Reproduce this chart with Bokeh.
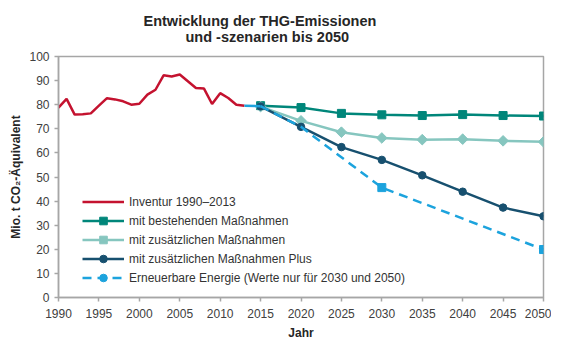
from bokeh.plotting import figure
from bokeh.models import Title, Legend, LegendItem, Range1d, FixedTicker
from bokeh.embed import file_html
from bokeh.resources import INLINE

# ---- data ----
inv_years = list(range(1990, 2014))
inv_vals = [78.8, 82.4, 75.9, 76.0, 76.4, 79.6, 82.7, 82.2, 81.4, 80.0, 80.4, 84.2,
            86.2, 92.2, 91.7, 92.5, 89.7, 86.9, 86.7, 80.3, 84.8, 82.8, 80.0, 79.6]
scen_years = [2015, 2020, 2025, 2030, 2035, 2040, 2045, 2050]
wem_vals = [79.6, 78.8, 76.4, 75.8, 75.5, 75.9, 75.5, 75.3]
wam_vals = [79.2, 73.3, 68.6, 66.2, 65.5, 65.7, 65.0, 64.6]
wamp_vals = [79.3, 70.8, 62.4, 57.1, 50.7, 43.9, 37.3, 33.7]
ee_years = [2015, 2020, 2030, 2050]
ee_vals = [79.4, 70.8, 45.6, 19.9]
ee_marker_years = [2030, 2050]
ee_marker_vals = [45.6, 19.9]
x_ticks = list(range(1990, 2051, 5))
y_ticks = list(range(0, 101, 10))

title_lines = ["Entwicklung der THG-Emissionen", "und -szenarien bis 2050"]
labels = ["Inventur 1990\u20132013", "mit bestehenden Ma\u00dfnahmen",
          "mit zus\u00e4tzlichen Ma\u00dfnahmen", "mit zus\u00e4tzlichen Ma\u00dfnahmen Plus",
          "Erneuerbare Energie (Werte nur f\u00fcr 2030 und 2050)"]

c_inv = "#C4122F"
c_wem = "#00867A"
c_wam = "#86C6BF"
c_wamp = "#17506F"
c_ee = "#1CA3DD"
FONT = "Liberation Sans"

p = figure(width=551, height=347, output_backend="svg", toolbar_location=None,
           x_range=Range1d(1990, 2050), y_range=Range1d(0, 100),
           min_border_left=58, min_border_right=8, min_border_top=56, min_border_bottom=50)
p.grid.visible = False
p.outline_line_color = "#A6A6A6"
p.outline_line_width = 1.5
p.background_fill_color = "white"
p.border_fill_color = "white"

for ax in (p.xaxis, p.yaxis):
    ax.axis_line_color = "#A6A6A6"
    ax.axis_line_width = 1.5
    ax.major_tick_line_color = "#A6A6A6"
    ax.major_tick_line_width = 1.5
    ax.major_tick_in = 0
    ax.major_tick_out = 4
    ax.minor_tick_line_color = None
    ax.major_label_text_font = FONT
    ax.major_label_text_font_size = "12px"
    ax.major_label_text_color = "#404040"
    ax.axis_label_text_font = FONT
    ax.axis_label_text_font_size = "12px"
    ax.axis_label_text_font_style = "bold"
    ax.axis_label_text_color = "#262626"

p.xaxis.ticker = FixedTicker(ticks=x_ticks)
p.yaxis.ticker = FixedTicker(ticks=y_ticks)
p.xaxis.axis_label = "Jahr"
p.yaxis.axis_label = "Mio. t CO\u2082-\u00c4quivalent"
p.xaxis.major_label_standoff = 7
p.yaxis.major_label_standoff = 5
p.xaxis.axis_label_standoff = 5
p.yaxis.axis_label_standoff = 3

# two-line title (first added sits closest to the plot)
p.add_layout(Title(text=title_lines[1], align="left", offset=127,
                   text_font=FONT, text_font_size="14.5px", text_font_style="bold",
                   text_color="#262626", standoff=24), "above")
p.add_layout(Title(text=title_lines[0], align="left", offset=85,
                   text_font=FONT, text_font_size="14.5px", text_font_style="bold",
                   text_color="#262626", standoff=-28), "above")

LW = 2.5
r_inv = p.line(inv_years, inv_vals, color=c_inv, line_width=LW)

r_wem_l = p.line(scen_years, wem_vals, color=c_wem, line_width=LW)
r_wem_m = p.scatter(scen_years, wem_vals, marker="square", size=8, color=c_wem)

r_wam_l = p.line(scen_years, wam_vals, color=c_wam, line_width=LW)
r_wam_m = p.scatter(scen_years, wam_vals, marker="square", angle=0.7854, size=7.5, color=c_wam)

r_wamp_l = p.line(scen_years, wamp_vals, color=c_wamp, line_width=LW)
r_wamp_m = p.scatter(scen_years, wamp_vals, marker="circle", size=7.5, color=c_wamp)

r_ee_l = p.line(ee_years, ee_vals, color=c_ee, line_width=LW, line_dash="9 6")
r_ee_m = p.scatter(ee_marker_years, ee_marker_vals, marker="square", size=8, color=c_ee)
# legend-only circle symbol (zero size in the plot)
r_ee_leg = p.scatter(ee_marker_years, ee_marker_vals, marker="circle", size=0, color=c_ee)

# connector from inventory to scenarios
p.line([inv_years[-1], ee_years[0]], [inv_vals[-1], ee_vals[0]], color=c_ee, line_width=LW)

legend = Legend(items=[
    LegendItem(label=labels[0], renderers=[r_inv]),
    LegendItem(label=labels[1], renderers=[r_wem_l, r_wem_m]),
    LegendItem(label=labels[2], renderers=[r_wam_l, r_wam_m]),
    LegendItem(label=labels[3], renderers=[r_wamp_l, r_wamp_m]),
    LegendItem(label=labels[4], renderers=[r_ee_l, r_ee_leg]),
], location=(24, 10))
legend.padding = 0
legend.margin = 0
legend.spacing = 0
legend.glyph_width = 42
legend.glyph_height = 19
legend.label_height = 19
legend.label_standoff = 5
legend.border_line_color = None
legend.background_fill_alpha = 0
legend.label_text_font = FONT
legend.label_text_font_size = "12px"
legend.label_text_color = "#333333"
p.add_layout(legend)

open("out.html", "w").write(file_html(p, INLINE))
